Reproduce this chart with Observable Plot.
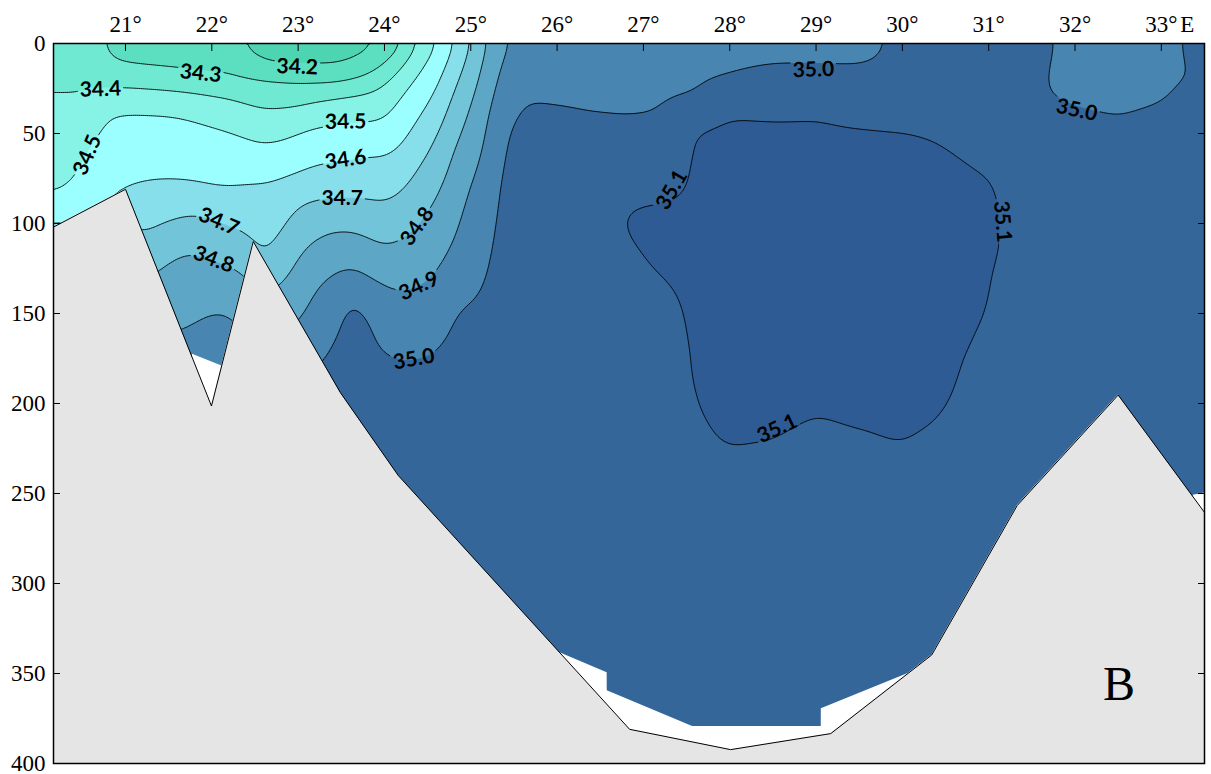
<!DOCTYPE html>
<html>
<head>
<meta charset="utf-8">
<script src="https://cdn.jsdelivr.net/npm/d3@7"></script>
<script src="https://cdn.jsdelivr.net/npm/@observablehq/plot@0.6"></script>
<style>
  html, body { margin: 0; padding: 0; background: #ffffff; }
</style>
</head>
<body>
<div id="chart"></div>
<script>
// CTD stations along the section (longitude, degrees east)
const stationLon = [20.166, 20.4, 20.6, 20.8, 21.0, 21.2, 21.4, 21.6, 21.8, 22.0, 22.2, 22.4, 22.6, 22.8,
  23.0, 23.2, 23.4, 23.6, 23.8, 24.0, 24.2, 24.4, 24.6, 24.8, 25.0, 25.2, 25.4, 25.6, 25.8, 26.0,
  26.4, 26.8, 27.2, 27.6, 28.0, 28.5, 29.0, 29.5, 30.0, 30.4, 30.8, 31.2, 31.6, 32.0, 32.5, 33.0, 33.5];

// Standard sampling depths (m)
const sampleDepth = [0, 10, 20, 30, 40, 50, 60, 70, 80, 90, 100, 110, 120, 130, 140, 150, 160, 170, 180, 190, 200, 215, 230, 260, 300, 400];

// Salinity profile of each station, one value per sampling depth
const salinity = [
  [34.33,34.357,34.384,34.407,34.424,34.441,34.458,34.472,34.488,34.516,34.604,34.684,34.744,34.801,34.85,34.901,34.933,34.967,35.001,35.02,35.03,35.04,35.05,35.05,35.05,35.05],
  [34.31,34.345,34.379,34.408,34.427,34.446,34.465,34.483,34.506,34.553,34.598,34.683,34.75,34.809,34.855,34.901,34.933,34.967,35.001,35.02,35.03,35.04,35.05,35.05,35.05,35.05],
  [34.33,34.357,34.384,34.415,34.449,34.483,34.511,34.533,34.556,34.578,34.598,34.683,34.75,34.809,34.855,34.901,34.933,34.967,35.001,35.02,35.03,35.04,35.05,35.05,35.05,35.05],
  [34.29,34.299,34.365,34.438,34.504,34.523,34.541,34.559,34.578,34.596,34.65,34.712,34.771,34.82,34.86,34.901,34.933,34.967,35.001,35.02,35.03,35.04,35.05,35.05,35.05,35.05],
  [34.26,34.29,34.361,34.448,34.509,34.531,34.553,34.576,34.598,34.647,34.701,34.74,34.78,34.817,34.85,34.883,34.917,34.95,34.983,35.01,35.02,35.03,35.04,35.05,35.05,35.05],
  [34.25,34.286,34.355,34.443,34.509,34.533,34.558,34.582,34.61,34.644,34.679,34.715,34.754,34.792,34.824,34.855,34.885,34.917,34.95,34.983,35.01,35.03,35.04,35.05,35.05,35.05],
  [34.24,34.282,34.35,34.438,34.508,34.533,34.558,34.584,34.615,34.657,34.698,34.74,34.781,34.815,34.842,34.869,34.895,34.924,34.955,34.985,35.01,35.03,35.04,35.05,35.05,35.05],
  [34.23,34.277,34.343,34.429,34.504,34.53,34.556,34.582,34.616,34.666,34.716,34.767,34.808,34.831,34.854,34.877,34.899,34.923,34.949,34.974,35.001,35.02,35.03,35.04,35.05,35.05],
  [34.22,34.271,34.337,34.419,34.491,34.524,34.551,34.578,34.611,34.673,34.728,34.778,34.814,34.838,34.863,34.888,34.91,34.93,34.95,34.97,34.99,35.02,35.03,35.04,35.05,35.05],
  [34.21,34.263,34.326,34.408,34.474,34.517,34.544,34.572,34.601,34.658,34.712,34.757,34.801,34.836,34.871,34.903,34.922,34.942,34.961,34.98,34.999,35.02,35.03,35.04,35.05,35.05],
  [34.23,34.269,34.316,34.398,34.456,34.507,34.538,34.568,34.599,34.646,34.693,34.739,34.786,34.827,34.866,34.903,34.922,34.941,34.961,34.98,34.999,35.02,35.03,35.04,35.05,35.05],
  [34.185,34.231,34.308,34.379,34.437,34.49,34.531,34.57,34.607,34.642,34.678,34.717,34.762,34.806,34.838,34.869,34.899,34.929,34.957,34.986,35.01,35.03,35.04,35.05,35.05,35.05],
  [34.16,34.195,34.301,34.363,34.42,34.47,34.52,34.57,34.609,34.632,34.655,34.677,34.699,34.75,34.799,34.84,34.88,34.92,34.96,34.999,35.015,35.03,35.04,35.05,35.05,35.05],
  [34.15,34.18,34.293,34.364,34.425,34.478,34.529,34.579,34.619,34.651,34.684,34.714,34.748,34.783,34.826,34.863,34.899,34.94,34.98,35.01,35.02,35.03,35.04,35.05,35.05,35.05],
  [34.15,34.18,34.283,34.366,34.437,34.501,34.545,34.59,34.646,34.703,34.737,34.771,34.804,34.829,34.855,34.882,34.913,34.957,34.999,35.015,35.025,35.035,35.04,35.05,35.05,35.05],
  [34.15,34.18,34.28,34.383,34.459,34.52,34.564,34.611,34.665,34.716,34.761,34.806,34.845,34.884,34.912,34.933,34.954,34.975,34.996,35.01,35.02,35.03,35.04,35.05,35.05,35.05],
  [34.15,34.18,34.277,34.398,34.47,34.526,34.572,34.619,34.67,34.723,34.779,34.826,34.868,34.906,34.929,34.953,34.978,35.003,35.02,35.03,35.04,35.05,35.05,35.05,35.05,35.05],
  [34.16,34.197,34.295,34.411,34.477,34.53,34.578,34.625,34.671,34.722,34.78,34.829,34.873,34.94,34.995,35.03,35.035,35.04,35.04,35.045,35.05,35.05,35.05,35.05,35.05,35.05],
  [34.17,34.238,34.32,34.421,34.481,34.536,34.588,34.631,34.672,34.715,34.767,34.81,34.856,34.901,34.955,34.998,35.02,35.025,35.03,35.04,35.05,35.05,35.05,35.05,35.05,35.05],
  [34.22,34.282,34.378,34.439,34.487,34.535,34.586,34.627,34.666,34.705,34.746,34.787,34.832,34.88,34.915,34.942,34.968,34.995,35.015,35.025,35.03,35.04,35.05,35.05,35.05,35.05],
  [34.28,34.373,34.448,34.507,34.541,34.576,34.612,34.651,34.69,34.728,34.765,34.803,34.838,34.874,34.907,34.932,34.958,34.985,35.01,35.02,35.03,35.04,35.05,35.05,35.05,35.05],
  [34.415,34.47,34.518,34.557,34.596,34.633,34.669,34.705,34.736,34.767,34.799,34.828,34.857,34.886,34.913,34.937,34.962,34.988,35.01,35.02,35.03,35.04,35.05,35.05,35.05,35.05],
  [34.493,34.533,34.573,34.613,34.651,34.689,34.722,34.753,34.783,34.811,34.834,34.857,34.881,34.904,34.928,34.951,34.974,34.997,35.015,35.025,35.03,35.04,35.05,35.05,35.05,35.05],
  [34.596,34.636,34.677,34.713,34.743,34.773,34.802,34.821,34.841,34.86,34.879,34.899,34.924,34.95,34.976,35.002,35.01,35.02,35.025,35.03,35.035,35.04,35.05,35.05,35.05,35.05],
  [34.702,34.728,34.756,34.785,34.812,34.837,34.863,34.887,34.909,34.924,34.939,34.953,34.967,34.982,34.996,35.01,35.02,35.025,35.03,35.035,35.04,35.05,35.05,35.05,35.05,35.05],
  [34.81,34.833,34.855,34.877,34.899,34.911,34.921,34.932,34.943,34.954,34.965,34.975,34.986,34.997,35.008,35.015,35.02,35.025,35.03,35.035,35.04,35.05,35.05,35.05,35.05,35.05],
  [34.898,34.918,34.94,34.96,34.98,35.001,35.01,35.02,35.03,35.035,35.04,35.045,35.05,35.05,35.05,35.05,35.05,35.05,35.05,35.05,35.05,35.05,35.05,35.05,35.05,35.05],
  [34.93,34.953,34.975,34.997,35.01,35.02,35.03,35.035,35.04,35.045,35.05,35.05,35.05,35.05,35.05,35.05,35.05,35.05,35.05,35.05,35.05,35.05,35.05,35.05,35.05,35.05],
  [34.94,34.959,34.977,34.996,35.012,35.02,35.03,35.035,35.04,35.045,35.05,35.05,35.05,35.05,35.05,35.05,35.05,35.05,35.05,35.05,35.05,35.05,35.05,35.05,35.05,35.05],
  [34.945,34.961,34.977,34.993,35.01,35.02,35.03,35.035,35.04,35.045,35.05,35.05,35.05,35.05,35.05,35.05,35.05,35.05,35.05,35.05,35.05,35.05,35.05,35.05,35.05,35.05],
  [34.95,34.963,34.976,34.989,35.003,35.02,35.035,35.045,35.055,35.065,35.07,35.068,35.062,35.058,35.055,35.05,35.05,35.05,35.05,35.05,35.05,35.05,35.05,35.05,35.05,35.05],
  [34.95,34.962,34.975,34.987,34.999,35.02,35.04,35.06,35.08,35.097,35.104,35.095,35.085,35.075,35.07,35.065,35.06,35.06,35.055,35.055,35.05,35.05,35.05,35.05,35.05,35.05],
  [34.955,34.967,34.979,34.991,35.004,35.02,35.04,35.06,35.08,35.104,35.115,35.12,35.112,35.099,35.088,35.08,35.075,35.07,35.07,35.065,35.06,35.058,35.055,35.05,35.05,35.05],
  [34.965,34.978,34.99,35.002,35.06,35.104,35.108,35.11,35.11,35.115,35.118,35.12,35.118,35.115,35.112,35.11,35.108,35.106,35.104,35.102,35.097,35.085,35.07,35.06,35.05,35.05],
  [34.98,34.99,35.004,35.05,35.097,35.12,35.13,35.135,35.135,35.135,35.135,35.135,35.135,35.135,35.135,35.135,35.135,35.135,35.135,35.133,35.13,35.115,35.09,35.065,35.05,35.05],
  [34.985,34.996,35.018,35.05,35.09,35.12,35.13,35.135,35.135,35.135,35.135,35.135,35.135,35.135,35.135,35.135,35.135,35.135,35.135,35.135,35.128,35.108,35.085,35.065,35.05,35.05],
  [34.985,34.996,35.02,35.055,35.093,35.12,35.13,35.135,35.135,35.135,35.135,35.135,35.135,35.135,35.135,35.135,35.135,35.135,35.135,35.13,35.112,35.085,35.07,35.06,35.05,35.05],
  [34.985,34.992,35.025,35.045,35.075,35.11,35.13,35.135,35.135,35.135,35.135,35.135,35.135,35.135,35.135,35.135,35.135,35.135,35.135,35.135,35.125,35.098,35.075,35.06,35.05,35.05],
  [35.01,35.015,35.03,35.05,35.075,35.101,35.125,35.135,35.135,35.135,35.135,35.135,35.135,35.135,35.135,35.135,35.135,35.135,35.135,35.135,35.13,35.112,35.085,35.06,35.05,35.05],
  [35.02,35.025,35.035,35.05,35.07,35.09,35.11,35.125,35.135,35.135,35.135,35.135,35.135,35.135,35.135,35.135,35.135,35.135,35.135,35.128,35.114,35.09,35.07,35.06,35.05,35.05],
  [35.03,35.03,35.035,35.04,35.05,35.065,35.085,35.102,35.115,35.125,35.13,35.13,35.125,35.12,35.118,35.112,35.104,35.096,35.085,35.075,35.07,35.065,35.06,35.05,35.05,35.05],
  [35.035,35.04,35.045,35.05,35.055,35.06,35.07,35.085,35.09,35.092,35.093,35.094,35.09,35.085,35.082,35.08,35.075,35.07,35.065,35.06,35.055,35.05,35.05,35.05,35.05,35.05],
  [35.015,35.008,35.003,35.004,35.02,35.04,35.05,35.05,35.05,35.05,35.05,35.05,35.05,35.05,35.05,35.05,35.05,35.05,35.05,35.05,35.05,35.05,35.05,35.05,35.05,35.05],
  [34.975,34.978,34.982,34.99,35.01,35.03,35.04,35.05,35.05,35.05,35.05,35.05,35.05,35.05,35.05,35.05,35.05,35.05,35.05,35.05,35.05,35.05,35.05,35.05,35.05,35.05],
  [34.97,34.975,34.98,34.987,34.997,35.02,35.035,35.05,35.05,35.05,35.05,35.05,35.05,35.05,35.05,35.05,35.05,35.05,35.05,35.05,35.05,35.05,35.05,35.05,35.05,35.05],
  [34.975,34.98,34.985,34.995,35.012,35.03,35.04,35.05,35.05,35.05,35.05,35.05,35.05,35.05,35.05,35.05,35.05,35.05,35.05,35.05,35.05,35.05,35.05,35.05,35.05,35.05],
  [35.03,35.02,35.01,35.03,35.04,35.05,35.05,35.05,35.05,35.05,35.05,35.05,35.05,35.05,35.05,35.05,35.05,35.05,35.05,35.05,35.05,35.05,35.05,35.05,35.05,35.05]
];

// Isohaline levels and the fill of each salinity band (band floor → colour)
const isohalines = [34.2, 34.3, 34.4, 34.5, 34.6, 34.7, 34.8, 34.9, 35.0, 35.1];
const bandFloor = [34.0, 34.2, 34.3, 34.4, 34.5, 34.6, 34.7, 34.8, 34.9, 35.0, 35.1];
const bandColors = ["#4dd4b1", "#5cdfc1", "#6fe9d2", "#86f3e6", "#9cffff", "#86dfea",
  "#72c4d8", "#5ea6c5", "#4885b1", "#34669a", "#2e5b93"];

// Sea floor profile along the section
const bottomLon = [20.166, 21.0, 21.996, 22.48, 23.49, 24.16, 26.84, 28.01, 29.17, 30.34, 31.33, 32.5, 33.5];
const bottomDepth = [102, 81, 201.4, 110, 194, 240, 381, 392.3, 383.4, 339.7, 256.7, 195.3, 260.5];

// Deepest sampled level; below it the section is left blank
const sampledLon = [20.166, 21.7, 21.776, 22.124, 22.2, 25.9, 26.04, 26.58, 26.581, 27.57, 29.06, 29.061, 30.06, 30.2, 33.2, 33.37, 33.5];
const sampledDepth = [400, 400, 172.6, 179.3, 400, 400, 338.6, 349.6, 359.6, 379.5, 379.5, 369.6, 350.2, 400, 400, 251, 249.7];

// Axis ticks
const lonTicks = [21, 22, 23, 24, 25, 26, 27, 28, 29, 30, 31, 32, 33];
const depthTicks = [0, 50, 100, 150, 200, 250, 300, 350, 400];

// Isohaline labels: text, position and orientation along the line
const labelText  = ["34.2", "34.3", "34.4", "34.5", "34.5", "34.6", "34.7", "34.7", "34.8", "34.8", "34.9", "35.0", "35.0", "35.1", "35.1", "35.1", "35.0"];
const labelLon   = [22.99, 21.87, 20.71, 20.56, 23.55, 23.55, 23.51, 22.08, 22.02, 24.38, 24.40, 24.34, 28.97, 27.33, 31.16, 28.55, 32.02];
const labelDepth = [13.0, 16.6, 25.5, 62.0, 43.5, 64.5, 86.0, 99.0, 120.0, 101.6, 134.8, 175.4, 14.6, 81.3, 98.9, 214.0, 37.0];
const labelAngle = [2, 6, -2, -67, -1, -8, 0, 23, 21, -55, -25, -10, -2, -60, 85, -25, 12];

// Panel letter
const panelLetter = {text: "B", lon: 32.51, depth: 356};

const samples = stationLon.flatMap((lon, i) =>
  sampleDepth.map((depth, j) => ({lon, depth, s: salinity[i][j]})));
const bottom = bottomLon.map((lon, i) => ({lon, depth: bottomDepth[i]}));
const sampled = sampledLon.map((lon, i) => ({lon, depth: sampledDepth[i]}));
const labels = labelText.map((text, i) => ({text, lon: labelLon[i], depth: labelDepth[i], angle: labelAngle[i]}));

const serif = "'Liberation Serif', 'Times New Roman', serif";

const chart = Plot.plot({
  width: 1211,
  height: 774,
  marginLeft: 53,
  marginRight: 7,
  marginTop: 43,
  marginBottom: 11,
  style: {fontFamily: serif, fontSize: "23px", background: "#ffffff", overflow: "visible"},
  x: {domain: [20.166, 33.5], label: null},
  y: {domain: [0, 400], reverse: true, label: null},
  color: {type: "ordinal", domain: bandFloor, range: bandColors},
  marks: [
    // salinity bands
    Plot.contour(samples, {
      x: "lon", y: "depth", fill: "s", thresholds: bandFloor,
      interpolate: "barycentric", blur: 4, stroke: "none"
    }),
    // isohalines
    Plot.contour(samples, {
      x: "lon", y: "depth", value: "s", thresholds: isohalines,
      interpolate: "barycentric", blur: 4, fill: "none", stroke: "#000", strokeWidth: 0.9,
      ariaDescription: "isolines"
    }),
    // unsampled water below the deepest bottle
    Plot.areaY(sampled, {x: "lon", y1: "depth", y2: 400, fill: "#ffffff"}),
    // sea floor
    Plot.areaY(bottom, {x: "lon", y1: "depth", y2: 400, fill: "#e5e5e5"}),
    Plot.line(bottom, {x: "lon", y: "depth", stroke: "#000", strokeWidth: 1}),
    // isohaline labels
    Plot.text(labels, {
      x: "lon", y: "depth", text: "text", rotate: "angle",
      fontFamily: "Lato, 'DejaVu Sans', sans-serif", fontWeight: "bold", fontSize: 21,
      fill: "#000", ariaDescription: "isoline labels"
    }),
    // axes: ticks point into the frame, longitude labels above it
    Plot.axisX(lonTicks, {anchor: "top", tickSize: -7, tickFormat: () => "", label: null}),
    Plot.text(lonTicks, {x: (d) => d, text: (d) => `${d}°`, frameAnchor: "top", lineAnchor: "middle", dy: -19, fontFamily: serif, fontSize: 23}),
    Plot.text([33], {x: (d) => d, text: () => "E", frameAnchor: "top", lineAnchor: "middle", dy: -19, dx: 26, fontFamily: serif, fontSize: 23}),
    Plot.axisY(depthTicks, {anchor: "left", tickSize: -7, tickPadding: 15, label: null}),
    Plot.axisY(depthTicks, {anchor: "right", tickSize: -7, tickFormat: () => "", label: null}),
    Plot.frame({stroke: "#000", strokeWidth: 1.5}),
    Plot.text([panelLetter], {x: "lon", y: "depth", text: "text", fontFamily: serif, fontSize: 48})
  ]
});

document.getElementById("chart").append(chart);

// Break the isohalines where their labels sit
(function gapLines() {
  const svg = chart.tagName.toLowerCase() === "svg" ? chart : chart.querySelector("svg");
  const ns = "http://www.w3.org/2000/svg";
  const lines = svg.querySelector('[aria-description="isolines"]') || svg.querySelectorAll('g[aria-label="contour"]')[1];
  const labelGroup = svg.querySelector('[aria-description="isoline labels"]') || svg.querySelector('g[aria-label="text"]');
  if (!lines || !labelGroup) return;
  const defs = document.createElementNS(ns, "defs");
  const mask = document.createElementNS(ns, "mask");
  mask.setAttribute("id", "isoline-gaps");
  mask.setAttribute("maskUnits", "userSpaceOnUse");
  mask.setAttribute("x", 0);
  mask.setAttribute("y", 0);
  mask.setAttribute("width", 1211);
  mask.setAttribute("height", 774);
  const bg = document.createElementNS(ns, "rect");
  bg.setAttribute("width", 1211);
  bg.setAttribute("height", 774);
  bg.setAttribute("fill", "#fff");
  mask.append(bg);
  const outer = labelGroup.getAttribute("transform") || "";
  for (const t of labelGroup.querySelectorAll("text")) {
    const b = t.getBBox();
    const h = b.height * 0.6;
    const r = document.createElementNS(ns, "rect");
    r.setAttribute("x", b.x - 2);
    r.setAttribute("y", b.y + (b.height - h) / 2);
    r.setAttribute("width", b.width + 4);
    r.setAttribute("height", h);
    r.setAttribute("fill", "#000");
    r.setAttribute("transform", `${outer} ${t.getAttribute("transform") || ""}`);
    mask.append(r);
  }
  defs.append(mask);
  svg.insertBefore(defs, svg.firstChild);
  const wrap = document.createElementNS(ns, "g");
  lines.parentNode.insertBefore(wrap, lines);
  wrap.append(lines);
  wrap.setAttribute("mask", "url(#isoline-gaps)");
})();
</script>
</body>
</html>
